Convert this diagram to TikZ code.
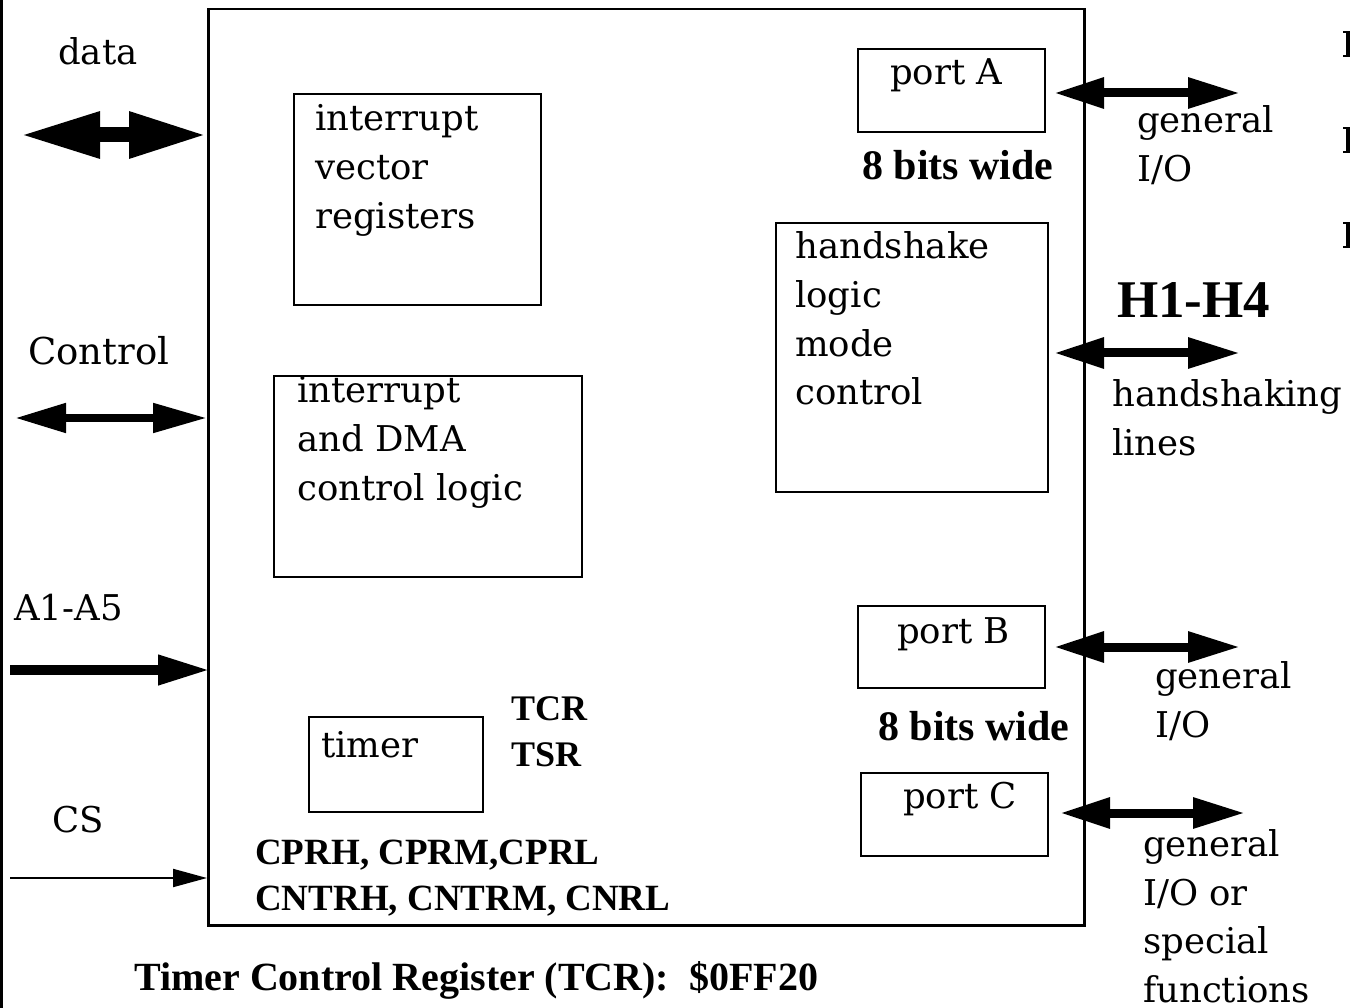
\documentclass[tikz,border=0pt]{standalone}
\usepackage{fontspec}
\setmainfont{DejaVu Serif}
\newfontfamily\tfont{Liberation Serif}
\usetikzlibrary{arrows.meta,calc}
\begin{document}
\begin{tikzpicture}[x=1pt,y=-1pt,
  lbl/.style={anchor=base west, inner sep=0pt, font=\fontsize{35.5}{49}\selectfont, align=left},
  blbl/.style={anchor=base west, inner sep=0pt, font=\tfont\bfseries\fontsize{#1}{46}\selectfont},
  blbl/.default=37,
  box/.style={draw, line width=2pt, inner sep=0pt, anchor=north west},
  bigarrow/.style={line width=15pt, {Triangle[length=80pt,width=43pt]}-{Triangle[length=78pt,width=43pt]}},
  ctlarrow/.style={line width=8pt, {Triangle[length=51pt,width=28pt]}-{Triangle[length=54pt,width=28pt]}},
  inarrow/.style={line width=10pt, -{Triangle[length=52pt,width=28pt]}},
  csarrow/.style={line width=2pt, -{Triangle[length=34pt,width=18pt]}},
  medarrow/.style={line width=9pt, {Triangle[length=50pt,width=29pt]}-{Triangle[length=52pt,width=29pt]}},
]
\useasboundingbox (0,0) rectangle (1350,1008);
\fill[white] (0,0) rectangle (1350,1008);
\fill[black] (0,0) rectangle (3,1008);

% outer chip
\node[box, line width=2.5pt, minimum width=876pt, minimum height=916pt] (chip) at (207,8) {};

% inner boxes
\node[box, minimum width=247pt, minimum height=211pt] (ivr) at (293,93) {};
\node[box, minimum width=308pt, minimum height=201pt] (dma) at (273,375) {};
\node[box, minimum width=174pt, minimum height=95pt] (timer) at (308,716) {};
\node[box, minimum width=187pt, minimum height=83pt] (portA) at (857,48) {};
\node[box, minimum width=272pt, minimum height=269pt] (hs) at (775,222) {};
\node[box, minimum width=187pt, minimum height=82pt] (portB) at (857,605) {};
\node[box, minimum width=187pt, minimum height=83pt] (portC) at (860,772) {};

% inner texts (multi-line nodes: base = last line)
\node[lbl] (ivrt) at (315,229) {interrupt\\vector\\registers};
\node[lbl] (dmat) at (297,500) {interrupt\\and DMA\\control logic};
\node[lbl] (timert) at (321,757) {timer};
\node[lbl] (portAt) at (890,85) {port A};
\node[lbl] (hst) at (795,405) {handshake\\logic\\mode\\control};
\node[lbl] (portBt) at (897,643) {port B};
\node[lbl] (portCt) at (903,808) {port C};

% bold labels
\node[blbl=42] (wideA) at (862,180) {8 bits wide};
\node[blbl=42] (wideB) at (878,740) {8 bits wide};
\node[blbl=53] (hl) at (1117,318) {H1-H4};
\node[blbl=36] (tcr) at (511,720) {TCR};
\node[blbl=36] (tsr) at (511,766) {TSR};
\node[blbl] (cpr) at (255,864) {CPRH, CPRM,CPRL};
\node[blbl] (cntr) at (255,910) {CNTRH, CNTRM, CNRL};
\node[blbl=40] (tcrreg) at (134,990) {Timer Control Register (TCR):\ \ \$0FF20};

% left labels
\node[lbl] (datat) at (58,65) {data};
\node[lbl, font=\fontsize{37}{49}\selectfont] (ctlt) at (28,365) {Control};
\node[lbl] (at) at (14,620) {A1-A5};
\node[lbl] (cst) at (52,832) {CS};

% left arrows
\coordinate (dataL) at (20,135);
\coordinate (ctlL) at (15,418);
\coordinate (aL) at (10,670);
\coordinate (csL) at (10,878);
\draw[bigarrow] (dataL) -- (dataL -| chip.west);
\draw[ctlarrow] (ctlL) -- (ctlL -| chip.west);
\draw[inarrow] (aL) -- ($(aL -| chip.west)+(3,0)$);
\draw[csarrow] (csL) -- (csL -| chip.west);

% right arrows
\coordinate (paR) at (1240,93);
\coordinate (hsR) at (1240,353);
\coordinate (pbR) at (1240,647);
\coordinate (pcR) at (1245,813);
\draw[medarrow] ($(paR -| portA.east)+(8,0)$) -- (paR);
\draw[medarrow] ($(hsR -| hs.east)+(5,0)$) -- (hsR);
\draw[medarrow] ($(pbR -| portB.east)+(8,0)$) -- (pbR);
\draw[medarrow] ($(pcR -| portC.east)+(11,0)$) -- (pcR);

% right labels
\node[lbl] (gioA) at (1137,182) {general\\I/O};
\node[lbl] (hsl) at (1112,455) {handshaking\\lines};
\node[lbl] (gioB) at (1155,737) {general\\I/O};
\node[lbl, font=\fontsize{35.5}{48.5}\selectfont] (gioC) at (1143,1002) {general\\I/O or\\special\\functions};

% clipped glyph fragments at the right edge
\foreach \yy in {31,127,222} {
  \fill (1346,\yy) rectangle (1350,\yy+26);
  \fill (1343,\yy) rectangle (1350,\yy+2);
  \fill (1343,\yy+24) rectangle (1350,\yy+26);
}
\end{tikzpicture}
\end{document}
